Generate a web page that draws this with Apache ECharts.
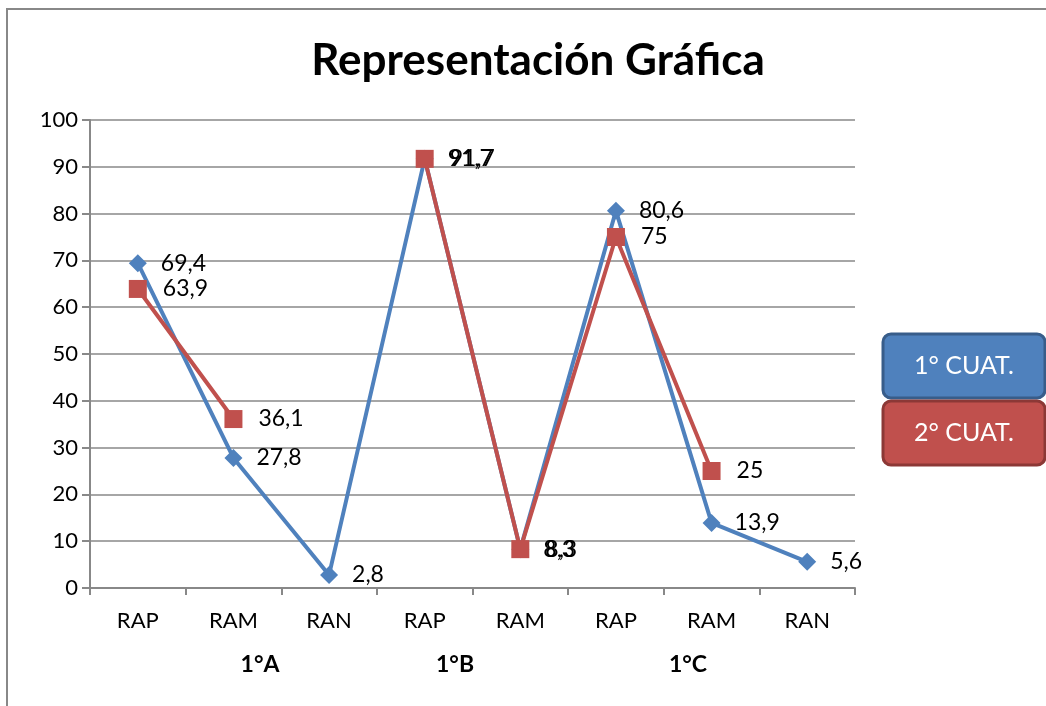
<!DOCTYPE html>
<html>
<head>
<meta charset="utf-8">
<script src="https://cdn.jsdelivr.net/npm/echarts@6/dist/echarts.min.js"></script>
<style>
  html, body { margin: 0; padding: 0; background: #fff; }
  #main { width: 1046px; height: 706px; }
</style>
</head>
<body>
<div id="main"></div>
<script>
// datos del gráfico
var categorias = ['RAP', 'RAM', 'RAN', 'RAP', 'RAM', 'RAP', 'RAM', 'RAN'];
var grupos = ['1°A', '1°B', '1°C'];
var nombres = ['1° CUAT.', '2° CUAT.'];
var cuat1 = [69.4, 27.8, 2.8, 91.7, 8.3, 80.6, 13.9, 5.6];
var cuat2 = [63.9, 36.1, null, 91.7, 8.3, 75, 25, null];

var azul = '#4F81BD', rojo = '#C0504D';
var fuente = 'Lato';

function etiqueta(p) {
  return String(p.value).replace('.', ',');
}

var myChart = echarts.init(document.getElementById('main'));

// posiciones de las etiquetas de grupo (como en el original)
var grupoX = [260, 455, 688];

myChart.setOption({
  backgroundColor: '#fff',
  animation: false,
  textStyle: { fontFamily: fuente },
  title: {
    text: 'Representación Gráfica',
    left: 533, top: 34, textAlign: 'center',
    textStyle: { fontSize: 44, fontWeight: 'bold', color: '#000', fontFamily: fuente }
  },
  grid: { left: 90, right: 191, top: 120, bottom: 118 },
  xAxis: {
    type: 'category',
    data: categorias,
    boundaryGap: true,
    axisLine: { lineStyle: { color: '#888', width: 2 } },
    axisTick: { show: true, length: 7, lineStyle: { color: '#888', width: 2 } },
    axisLabel: { color: '#000', fontSize: 22, margin: 22, fontFamily: fuente }
  },
  yAxis: {
    type: 'value',
    min: 0, max: 100, interval: 10,
    axisLine: { show: true, lineStyle: { color: '#888', width: 2 } },
    axisTick: { show: true, length: 8, lineStyle: { color: '#888', width: 2 } },
    splitLine: { lineStyle: { color: '#888', width: 1.5 } },
    axisLabel: { color: '#000', fontSize: 22, margin: 12, fontFamily: fuente }
  },
  series: [
    {
      name: nombres[0], type: 'line', data: cuat1,
      symbol: 'diamond', symbolSize: 18,
      lineStyle: { color: azul, width: 4 },
      itemStyle: { color: azul },
      label: { show: true, position: 'right', distance: 14, formatter: etiqueta, color: '#000', fontSize: 23, fontFamily: fuente }
    },
    {
      name: nombres[1], type: 'line', data: cuat2, connectNulls: false,
      symbol: 'rect', symbolSize: 18,
      lineStyle: { color: rojo, width: 4 },
      itemStyle: { color: rojo },
      label: { show: true, position: 'right', distance: 16, formatter: etiqueta, color: '#000', fontSize: 23, fontFamily: fuente }
    }
  ],
  graphic: [
    { type: 'polyline', shape: { points: [[7, 706], [7, 9], [1046, 9]] }, style: { stroke: '#888', lineWidth: 2, fill: null } }
  ].concat(grupos.map(function (g, i) {
    return { type: 'text', x: grupoX[i], y: 665, style: { text: g, fontSize: 23, fontWeight: 'bold', fill: '#000', fontFamily: fuente, align: 'center', verticalAlign: 'middle' } };
  })).concat(nombres.map(function (n, i) {
    var fondo = [azul, rojo][i], borde = ['#385D8A', '#8C3836'][i];
    var y = [334, 401][i];
    return {
      type: 'group', x: 883, y: y,
      children: [
        { type: 'rect', shape: { x: 0, y: 0, width: 162, height: 64, r: 8 }, style: { fill: fondo, stroke: borde, lineWidth: 3 } },
        { type: 'text', x: 81, y: 32, style: { text: n, fontSize: 25, fill: '#fff', fontFamily: fuente, align: 'center', verticalAlign: 'middle' } }
      ]
    };
  }))
});
</script>
</body>
</html>
